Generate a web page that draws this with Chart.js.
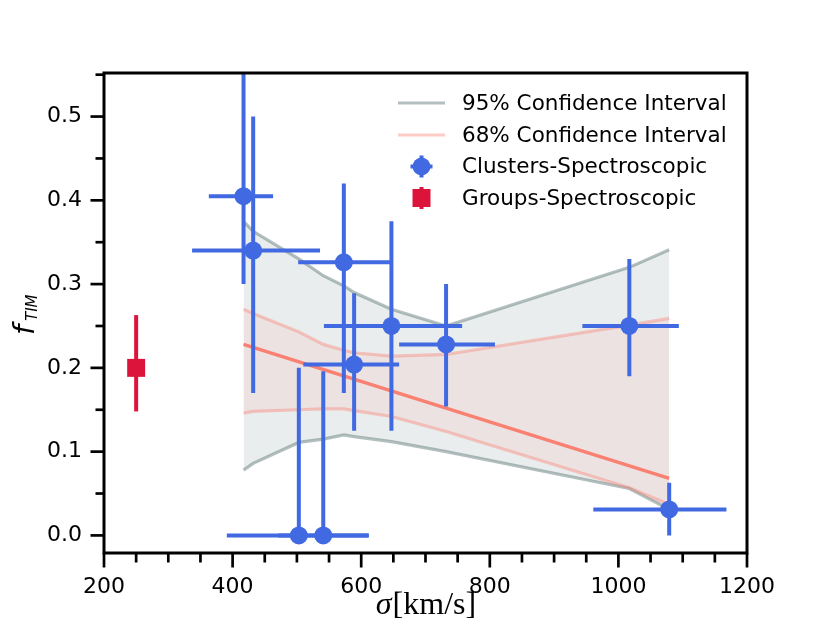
<!DOCTYPE html>
<html>
<head>
<meta charset="utf-8">
<script src="https://cdn.jsdelivr.net/npm/chart.js@4.4.1/dist/chart.umd.min.js"></script>
<style>
  html, body { margin: 0; padding: 0; background: #fff; }
  #wrap { width: 830px; height: 623px; position: relative; }
</style>
</head>
<body>
<div id="wrap"><canvas id="chart"></canvas></div>
<script>
// tick labels
const xTicks = [200, 400, 600, 800, 1000, 1200];
const yTicks = [0, 0.1, 0.2, 0.3, 0.4, 0.5];

// clusters (spectroscopic)
const clusterSigma = [417, 432, 503, 541, 573, 589, 647, 732, 1017, 1079];
const clusterF = [0.405, 0.340, 0, 0, 0.326, 0.204, 0.250, 0.228, 0.250, 0.031];
const clusterSigmaErrLow = [54, 95, 112, 70, 71, 79, 105, 73, 73, 118];
const clusterSigmaErrHigh = [46, 104, 109, 70, 72, 70, 110, 76, 77, 89];
const clusterFErrLow = [0.105, 0.170, 0, 0, 0.156, 0.079, 0.125, 0.074, 0.060, 0.031];
const clusterFErrHigh = [0.160, 0.160, 0.200, 0.196, 0.094, 0.085, 0.125, 0.072, 0.080, 0.032];

// groups (spectroscopic)
const groupSigma = [250];
const groupF = [0.200];
const groupFErrLow = [0.052];
const groupFErrHigh = [0.063];

// confidence bands, evaluated at the cluster sigmas
const bandSigma = [417, 432, 503, 541, 573, 589, 647, 732, 1017, 1079];
const ci95Upper = [0.375, 0.363, 0.330, 0.310, 0.298, 0.290, 0.270, 0.250, 0.320, 0.341];
const ci95Lower = [0.078, 0.086, 0.111, 0.115, 0.120, 0.118, 0.112, 0.100, 0.056, 0.031];
const ci68Upper = [0.270, 0.265, 0.243, 0.228, 0.221, 0.218, 0.214, 0.216, 0.251, 0.259];
const ci68Lower = [0.146, 0.148, 0.150, 0.151, 0.151, 0.149, 0.142, 0.124, 0.057, 0.037];

// best fit line
const fitSigma = [417, 1079];
const fitF = [0.228, 0.068];

const BLUE = '#4169e1';
const RED = '#dc143c';
const SALMON = '#fa8072';
const GRAY_LINE = 'rgba(47,79,79,0.36)';
const GRAY_FILL = 'rgba(47,79,79,0.1)';
const PINK_LINE = 'rgba(250,128,114,0.4)';
const PINK_FILL = 'rgba(250,128,114,0.1)';

const pts = (xs, ys) => xs.map((x, i) => ({ x: x, y: ys[i] }));

const bandLine = (label, xs, ys, color, fill, fillColor, order) => ({
  type: 'line', label: label, data: pts(xs, ys), borderColor: color, borderWidth: 3.2,
  pointRadius: 0, tension: 0, fill: fill, backgroundColor: fillColor, order: order
});

// error bars drawn just before the markers, from the scales
const errorBars = {
  id: 'errorBars',
  beforeDatasetDraw(chart, args) {
    const ds = chart.data.datasets[args.index];
    if (!ds.errLow) return;
    const { ctx, chartArea: a, scales: { x, y } } = chart;
    ctx.save();
    ctx.beginPath();
    ctx.rect(a.left, a.top, a.right - a.left, a.bottom - a.top);
    ctx.clip();
    ctx.strokeStyle = ds.backgroundColor;
    ctx.lineWidth = 4;
    ds.data.forEach((p, i) => {
      const px = x.getPixelForValue(p.x), py = y.getPixelForValue(p.y);
      ctx.beginPath();
      ctx.moveTo(px, y.getPixelForValue(p.y - ds.errLow[i]));
      ctx.lineTo(px, y.getPixelForValue(p.y + ds.errHigh[i]));
      if (ds.errXLow) {
        ctx.moveTo(x.getPixelForValue(p.x - ds.errXLow[i]), py);
        ctx.lineTo(x.getPixelForValue(p.x + ds.errXHigh[i]), py);
      }
      ctx.stroke();
    });
    ctx.restore();
  }
};

// frame, minor/major ticks, axis titles and legend
const decor = {
  id: 'decor',
  afterDraw(chart) {
    const { ctx, chartArea: a, scales: { x, y } } = chart;
    ctx.save();
    ctx.strokeStyle = '#000';
    ctx.lineWidth = 2.7;
    for (let v = 200; v <= 1200; v += 50) {
      const px = x.getPixelForValue(v);
      const len = v % 200 === 0 ? 13 : 8;
      ctx.beginPath(); ctx.moveTo(px, a.bottom); ctx.lineTo(px, a.bottom + 1.5 + len); ctx.stroke();
    }
    for (let k = 0; k <= 11; k++) {
      const py = y.getPixelForValue(k * 0.05);
      const len = k % 2 === 0 ? 12 : 7;
      ctx.beginPath(); ctx.moveTo(a.left, py); ctx.lineTo(a.left - 1.5 - len, py); ctx.stroke();
    }
    ctx.lineWidth = 3;
    ctx.strokeRect(a.left, a.top, a.right - a.left, a.bottom - a.top);

    // x title: sigma[km/s]
    ctx.fillStyle = '#000';
    ctx.textBaseline = 'alphabetic';
    ctx.textAlign = 'left';
    const fSig = 'italic 32px "Liberation Serif"', fUnit = '32px "Liberation Serif"';
    ctx.font = fSig; const wS = ctx.measureText('σ').width;
    ctx.font = fUnit; const wU = ctx.measureText('[km/s]').width;
    const cx = (a.left + a.right) / 2, x0 = cx - (wS + wU) / 2;
    ctx.font = fSig; ctx.fillText('σ', x0, 614);
    ctx.font = fUnit; ctx.fillText('[km/s]', x0 + wS + 1, 614);

    // y title: f_TIM
    ctx.save();
    ctx.translate(34, 335);
    ctx.rotate(-Math.PI / 2);
    ctx.font = 'italic 29px "DejaVu Sans"';
    ctx.fillText('f', 0, 0);
    ctx.font = 'italic 15px "DejaVu Sans"';
    ctx.fillText('TIM', 14, 2.5);
    ctx.restore();

    // legend
    const rows = [103, 135, 166.5, 198];
    const ds = chart.data.datasets;
    const entries = [ds[0], ds[2], ds[5], ds[6]];
    ctx.font = '21.5px "DejaVu Sans"';
    ctx.textBaseline = 'middle';
    entries.forEach((d, i) => {
      const ry = rows[i];
      if (i < 2) {
        ctx.strokeStyle = d.borderColor; ctx.lineWidth = 3.2;
        ctx.beginPath(); ctx.moveTo(398, ry); ctx.lineTo(445, ry); ctx.stroke();
      } else {
        ctx.strokeStyle = d.backgroundColor; ctx.fillStyle = d.backgroundColor; ctx.lineWidth = 4;
        ctx.beginPath(); ctx.moveTo(421.5, ry - 11); ctx.lineTo(421.5, ry + 11);
        if (i === 2) { ctx.moveTo(410.5, ry); ctx.lineTo(432.5, ry); }
        ctx.stroke();
        ctx.beginPath();
        if (i === 2) ctx.arc(421.5, ry, 9, 0, Math.PI * 2); else ctx.rect(412.5, ry - 9, 18, 18);
        ctx.fill();
      }
      ctx.fillStyle = '#000';
      ctx.fillText(d.label, 462, ry + 1);
    });
    ctx.restore();
  }
};

new Chart(document.getElementById('chart'), {
  type: 'scatter',
  data: {
    datasets: [
      bandLine('95% Confidence Interval', bandSigma, ci95Upper, GRAY_LINE, '+1', GRAY_FILL, 6),
      bandLine('95% lower', bandSigma, ci95Lower, GRAY_LINE, false, GRAY_FILL, 6),
      bandLine('68% Confidence Interval', bandSigma, ci68Upper, PINK_LINE, '+1', PINK_FILL, 5),
      bandLine('68% lower', bandSigma, ci68Lower, PINK_LINE, false, PINK_FILL, 5),
      {
        type: 'line', label: 'fit', data: pts(fitSigma, fitF), borderColor: SALMON,
        borderWidth: 3.5, pointRadius: 0, fill: false, order: 4
      },
      {
        label: 'Clusters-Spectroscopic', data: pts(clusterSigma, clusterF),
        backgroundColor: BLUE, borderColor: BLUE, borderWidth: 0, pointRadius: 9,
        errXLow: clusterSigmaErrLow, errXHigh: clusterSigmaErrHigh,
        errLow: clusterFErrLow, errHigh: clusterFErrHigh, order: 1
      },
      {
        label: 'Groups-Spectroscopic', data: pts(groupSigma, groupF),
        backgroundColor: RED, borderColor: RED, borderWidth: 0, pointStyle: 'rect', pointRadius: 12.7,
        errLow: groupFErrLow, errHigh: groupFErrHigh, order: 2
      }
    ]
  },
  options: {
    responsive: true,
    maintainAspectRatio: false,
    animation: false,
    devicePixelRatio: 1,
    layout: { padding: { left: 0, top: 73, right: 83, bottom: 0 } },
    plugins: { legend: { display: false }, tooltip: { enabled: false } },
    scales: {
      x: {
        type: 'linear', min: 200, max: 1200,
        afterBuildTicks: s => { s.ticks = xTicks.map(v => ({ value: v })); },
        afterFit: s => { s.height = 70; },
        grid: { display: false, drawTicks: false },
        border: { display: false },
        ticks: { color: '#000', padding: 21, maxRotation: 0, font: { family: 'DejaVu Sans', size: 22 }, callback: v => String(v) }
      },
      y: {
        type: 'linear', min: -0.021, max: 0.552,
        afterBuildTicks: s => { s.ticks = yTicks.map(v => ({ value: v })); },
        afterFit: s => { s.width = 104; },
        grid: { display: false, drawTicks: false },
        border: { display: false },
        ticks: { color: '#000', padding: 22, font: { family: 'DejaVu Sans', size: 22 }, callback: v => v.toFixed(1) }
      }
    }
  },
  plugins: [errorBars, decor]
});
</script>
</body>
</html>
